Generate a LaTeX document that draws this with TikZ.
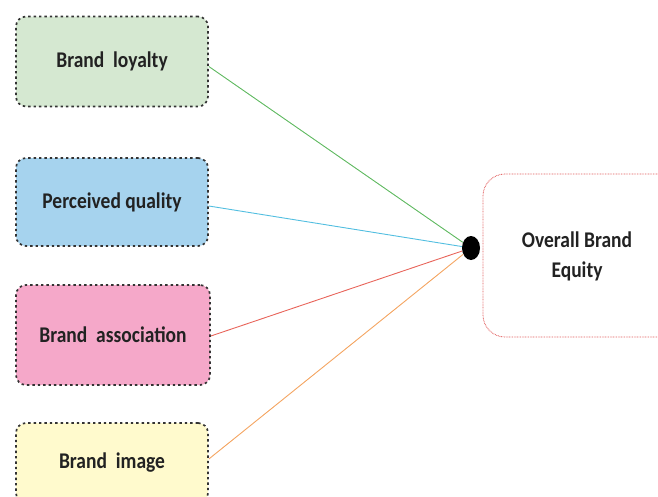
\documentclass[tikz,border=0pt]{standalone}
\usepackage{fontspec}
\usepackage{graphicx}
\setmainfont{Carlito}
\usetikzlibrary{calc,shapes.geometric}
\definecolor{gfill}{HTML}{D5E8D1}
\definecolor{bfill}{HTML}{A6D3EE}
\definecolor{pfill}{HTML}{F5A8C9}
\definecolor{yfill}{HTML}{FFFACD}
\definecolor{bordc}{HTML}{333333}
\definecolor{redb}{HTML}{E05A5A}
\definecolor{lgreen}{HTML}{5DB85E}
\definecolor{lblue}{HTML}{52BEE0}
\definecolor{lred}{HTML}{E8645A}
\definecolor{lorange}{HTML}{F4A460}
\definecolor{txt}{HTML}{222222}
\newcommand{\tallt}[1]{\scalebox{1}[1.15]{#1}}
\tikzset{
  factor/.style={draw=bordc, line width=1.7pt, dash pattern=on 2.4pt off 3pt,
    rounded corners=10pt, minimum width=192pt, inner sep=0pt,
    font=\bfseries\fontsize{19.5}{22}\selectfont, text=txt},
  link/.style={line width=0.9pt},
  target/.style={draw=redb, line width=0.8pt, dash pattern=on 0.8pt off 0.8pt,
    rounded corners=22pt, inner sep=0pt}
}
\begin{document}
\begin{tikzpicture}[x=1pt,y=-1pt]
\useasboundingbox (0,0) rectangle (658,496);
\clip (0,0) rectangle (658,496);
\node[factor, fill=gfill, minimum height=90pt] (b1) at (112,61.5) {\tallt{Brand~~loyalty}};
\node[factor, fill=bfill, minimum height=88pt] (b2) at (112,202) {\tallt{Perceived quality}};
\node[factor, fill=pfill, minimum height=100pt, minimum width=194pt] (b3) at (113,335) {\tallt{Brand~~association}};
\node[factor, fill=yfill, minimum height=80pt] (b4) at (112,463) {\tallt{Brand~~image}};
\node[target, minimum width=220pt, minimum height=163pt] (eq) at (593,255.5) {};
\node[font=\bfseries\fontsize{19.5}{30}\selectfont, text=txt, align=center] (eqt) at (577,256) {\tallt{Overall Brand}\\\tallt{Equity}};
\node[ellipse, fill=black, minimum width=18pt, minimum height=24pt, inner sep=0pt] (dot) at (471,248) {};
\draw[link, lgreen] ($(b1.east)+(0,5)$) -- (dot);
\draw[link, lblue] ($(b2.east)+(0,4)$) -- (dot);
\draw[link, lred] ($(b3.east)+(0,1)$) -- (dot);
\draw[link, lorange] ($(b4.east)+(0,-4)$) -- (dot);
\end{tikzpicture}
\end{document}
